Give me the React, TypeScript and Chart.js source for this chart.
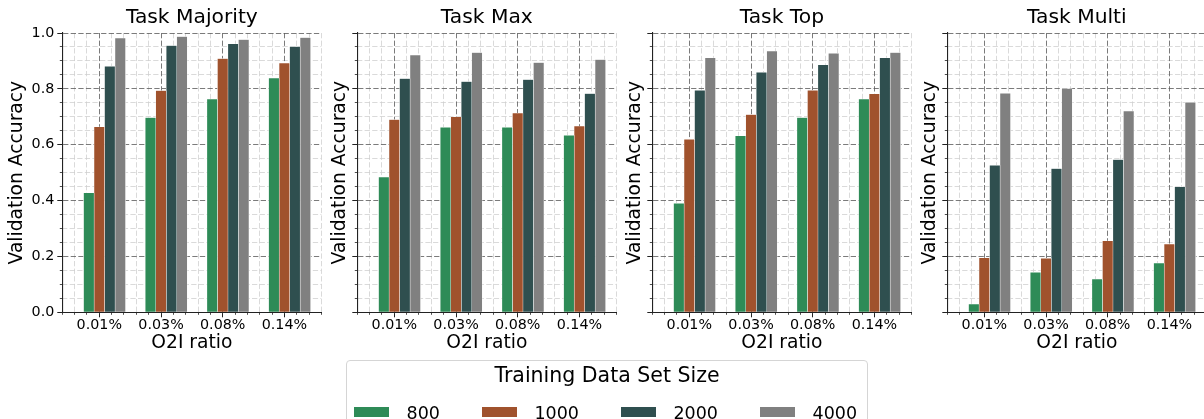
import React, { useEffect, useRef } from 'react';
import { Chart, registerables } from 'chart.js';

Chart.register(...registerables);

// ---------- data ----------
const categories = ['0.01%', '0.03%', '0.08%', '0.14%'];
const seriesLabels = ['800', '1000', '2000', '4000'];
const seriesColors = ['#2e8b57', '#a0522d', '#2f4f4f', '#808080'];
const taskTitles = ['Task Majority', 'Task Max', 'Task Top', 'Task Multi'];
const yTickValues = [0, 0.2, 0.4, 0.6, 0.8, 1.0];

const majority800 = [0.428, 0.697, 0.763, 0.839];
const majority1000 = [0.664, 0.794, 0.908, 0.892];
const majority2000 = [0.881, 0.955, 0.961, 0.951];
const majority4000 = [0.982, 0.987, 0.976, 0.984];

const max800 = [0.484, 0.662, 0.662, 0.634];
const max1000 = [0.690, 0.700, 0.713, 0.667];
const max2000 = [0.837, 0.826, 0.833, 0.783];
const max4000 = [0.921, 0.930, 0.894, 0.905];

const top800 = [0.390, 0.632, 0.697, 0.763];
const top1000 = [0.619, 0.708, 0.795, 0.782];
const top2000 = [0.795, 0.859, 0.886, 0.911];
const top4000 = [0.911, 0.935, 0.927, 0.930];

const multi800 = [0.029, 0.143, 0.119, 0.176];
const multi1000 = [0.195, 0.193, 0.256, 0.244];
const multi2000 = [0.526, 0.515, 0.547, 0.449];
const multi4000 = [0.784, 0.801, 0.720, 0.752];

const panelSeries = [
  [majority800, majority1000, majority2000, majority4000],
  [max800, max1000, max2000, max4000],
  [top800, top1000, top2000, top4000],
  [multi800, multi1000, multi2000, multi4000],
];

// ---------- layout / style ----------
const FONT = "'DejaVu Sans', sans-serif";
const BAR_STEP = 0.17;
const X_MIN = -0.6;
const X_MAX = 3.6;
const PANEL_PITCH = 295;
const CANVAS_W = 330;
const CANVAS_H = 360;
const MAJOR_COLOR = 'rgba(90,90,90,0.8)';
const MINOR_COLOR = 'rgba(205,205,205,0.75)';
const DASH = [5.3, 2.3];
const SPINE = '#222222';

const minorXValues: number[] = [];
for (let k = -3; k <= 18; k++) {
  if (k % 5 !== 0) minorXValues.push(k * 0.2);
}
const minorYValues: number[] = [];
for (let k = 0; k <= 20; k++) {
  if (k % 4 !== 0) minorYValues.push(k * 0.05);
}

function makeConfig(pi: number): any {
  const first = pi === 0;
  const series = panelSeries[pi];
  return {
    type: 'bar',
    data: {
      datasets: series.map((vals, si) => ({
        label: seriesLabels[si],
        data: vals.map((v, ci) => ({ x: ci + (si - 1) * BAR_STEP, y: v })),
        backgroundColor: seriesColors[si],
        borderColor: '#ffffff',
        borderWidth: 0.5,
        borderSkipped: 'start',
        grouped: false,
        categoryPercentage: 1,
        barPercentage: 1,
        xAxisID: 'x',
        yAxisID: 'y',
      })),
    },
    options: {
      responsive: false,
      animation: false,
      events: [],
      layout: { padding: { left: 0, right: CANVAS_W - 62.3 - 259.1, top: 0, bottom: 0 } },
      plugins: {
        legend: { display: false },
        tooltip: { enabled: false },
        title: {
          display: true,
          fullSize: false,
          text: taskTitles[pi],
          color: '#000',
          font: { family: FONT, size: 20.25, weight: 'normal' },
          padding: { top: 5.3, bottom: 3.4 },
        },
      },
      scales: {
        xMinor: {
          type: 'linear',
          axis: 'x',
          position: 'bottom',
          weight: 0,
          min: X_MIN,
          max: X_MAX,
          offset: false,
          afterBuildTicks: (s: any) => {
            s.ticks = minorXValues.map((v) => ({ value: v }));
          },
          afterFit: (s: any) => {
            s.height = 0;
          },
          ticks: { display: false },
          grid: { offset: false, color: MINOR_COLOR, lineWidth: 1, tickLength: 2.5, tickColor: SPINE, tickWidth: 0.8, z: -2 },
          border: { display: false, dash: DASH },
        },
        yMinor: {
          type: 'linear',
          axis: 'y',
          position: 'left',
          weight: 0,
          min: 0,
          max: 1,
          afterBuildTicks: (s: any) => {
            s.ticks = minorYValues.map((v) => ({ value: v }));
          },
          afterFit: (s: any) => {
            s.width = 0;
          },
          ticks: { display: false },
          grid: { color: MINOR_COLOR, lineWidth: 1, tickLength: 2.5, tickColor: SPINE, tickWidth: 0.8, z: -2 },
          border: { display: false, dash: DASH },
        },
        x: {
          type: 'linear',
          axis: 'x',
          position: 'bottom',
          weight: 1,
          min: X_MIN,
          max: X_MAX,
          offset: false,
          afterBuildTicks: (s: any) => {
            s.ticks = categories.map((_, i) => ({ value: i }));
          },
          afterFit: (s: any) => {
            s.height = CANVAS_H - 312.3;
          },
          ticks: {
            autoSkip: false,
            maxRotation: 0,
            padding: -1,
            color: '#000',
            font: { family: FONT, size: 14.3 },
            callback: (v: number) => categories[Math.round(v)] ?? '',
          },
          grid: { offset: false, color: MAJOR_COLOR, lineWidth: 1, tickLength: 5, tickColor: SPINE, tickWidth: 1, z: -1 },
          border: { display: true, color: SPINE, width: 1.1, dash: DASH, z: 1 },
          title: {
            display: true,
            text: 'O2I ratio',
            color: '#000',
            font: { family: FONT, size: 18.7 },
            padding: { top: 0, bottom: 5.3 },
          },
        },
        y: {
          type: 'linear',
          axis: 'y',
          position: 'left',
          weight: 1,
          min: 0,
          max: 1,
          afterBuildTicks: (s: any) => {
            s.ticks = yTickValues.map((v) => ({ value: v }));
          },
          afterFit: (s: any) => {
            s.width = 62.3;
          },
          ticks: {
            display: first,
            padding: 3,
            color: '#000',
            font: { family: FONT, size: 14.3 },
            callback: (v: number) => Number(v).toFixed(1),
          },
          grid: { color: MAJOR_COLOR, lineWidth: 1, tickLength: 5, tickColor: SPINE, tickWidth: 1, z: -1 },
          border: { display: true, color: SPINE, width: 1.1, dash: DASH, z: 1 },
          title: {
            display: true,
            text: 'Validation Accuracy',
            color: '#000',
            font: { family: FONT, size: 18.7 },
            padding: { top: first ? 5.5 : 33.8, bottom: 0 },
          },
        },
      },
    },
  };
}

export default function App() {
  const refs = useRef<(HTMLCanvasElement | null)[]>([]);

  useEffect(() => {
    const charts: Chart[] = [];
    refs.current.forEach((c, i) => {
      if (c) charts.push(new Chart(c, makeConfig(i)));
    });
    return () => charts.forEach((ch) => ch.destroy());
  }, []);

  return (
    <div
      style={{
        position: 'absolute',
        left: 0,
        top: 0,
        width: 1204,
        height: 419,
        overflow: 'hidden',
        background: '#ffffff',
        fontFamily: FONT,
      }}
    >
      {taskTitles.map((_, i) => (
        <canvas
          key={i}
          ref={(el) => {
            refs.current[i] = el;
          }}
          width={CANVAS_W}
          height={CANVAS_H}
          style={{ position: 'absolute', left: i * PANEL_PITCH, top: 0, width: CANVAS_W, height: CANVAS_H }}
        />
      ))}
      <div
        style={{
          position: 'absolute',
          left: 346,
          top: 359.7,
          width: 522,
          height: 90,
          border: '1px solid #d5d5d5',
          borderRadius: 4,
          boxSizing: 'border-box',
          background: 'rgba(255,255,255,0.8)',
        }}
      />
      <div
        style={{
          position: 'absolute',
          left: 346,
          width: 522,
          top: 364.9,
          textAlign: 'center',
          fontSize: 20.5,
          lineHeight: 1,
          color: '#000',
          whiteSpace: 'nowrap',
        }}
      >
        Training Data Set Size
      </div>
      <div
        style={{
          position: 'absolute',
          left: 354,
          top: 405,
          display: 'flex',
          flexDirection: 'row',
          alignItems: 'flex-start',
          whiteSpace: 'nowrap',
        }}
      >
        {seriesLabels.map((lab, i) => (
          <div key={lab} style={{ display: 'flex', alignItems: 'flex-start', marginRight: i < 3 ? 42 : 0 }}>
            <div
              style={{
                width: 35,
                height: 10.7,
                marginTop: 1.7,
                marginRight: 17.5,
                background: seriesColors[i],
              }}
            />
            <div style={{ fontSize: 17.5, lineHeight: 1, color: '#000' }}>{lab}</div>
          </div>
        ))}
      </div>
    </div>
  );
}
